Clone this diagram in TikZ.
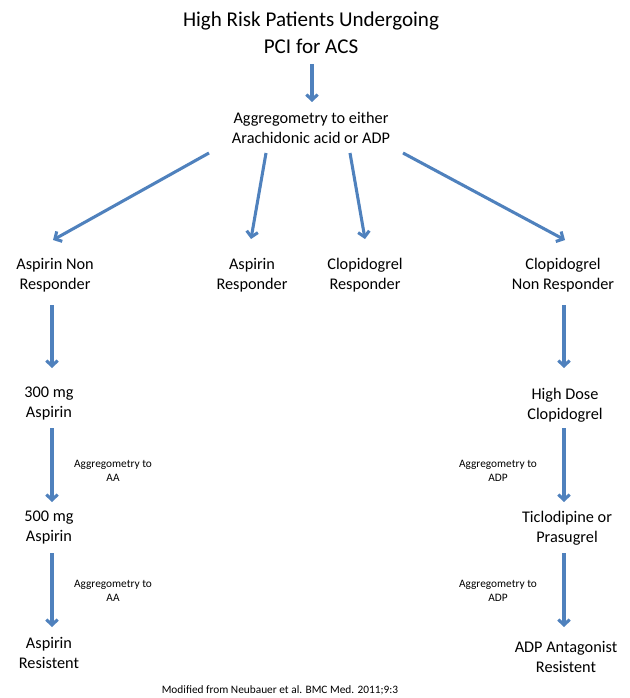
\documentclass[tikz,border=0pt]{standalone}
\usepackage{fontspec}
\setmainfont{Carlito}
\usepackage{tikz}
\usetikzlibrary{arrows.meta,calc}
\definecolor{flowblue}{RGB}{79,129,189}

\begin{document}
\begin{tikzpicture}[x=0.75pt,y=-0.75pt,
    flow/.style={draw=flowblue, line width=2.3pt, -{Straight Barb[length=4pt,width=8.5pt]}},
    txt/.style={align=center, font=\fontsize{12.2}{15}\selectfont},
    note/.style={align=center, font=\fontsize{8.5}{11}\selectfont}]
    \useasboundingbox (0,0) rectangle (630,698);

    \node[align=center, font=\fontsize{15.8}{20}\selectfont] (title) at (311,33) {High Risk Patients Undergoing\\PCI for ACS};
    \node[txt] (agg) at (311,128) {Aggregometry to either\\Arachidonic acid or ADP};

    \node[txt] (anr) at (55,275) {Aspirin Non\\Responder};
    \node[txt] (ar) at (252,275) {Aspirin\\Responder};
    \node[txt] (cr) at (365,275) {Clopidogrel\\Responder};
    \node[txt] (cnr) at (563,275) {Clopidogrel\\Non Responder};

    \node[txt] (asa300) at (49,404) {300 mg\\Aspirin};
    \node[txt] (asa500) at (49,528) {500 mg\\Aspirin};
    \node[txt] (asares) at (49,653) {Aspirin\\Resistent};

    \node[txt] (hdc) at (565,405) {High Dose\\Clopidogrel};
    \node[txt] (tic) at (567,528) {Ticlodipine or\\Prasugrel};
    \node[txt] (adpres) at (566,657) {ADP Antagonist\\Resistent};

    \node[note] (aa1) at (113,471) {Aggregometry to\\AA};
    \node[note] (aa2) at (113,591) {Aggregometry to\\AA};
    \node[note] (adp1) at (498,471) {Aggregometry to\\ADP};
    \node[note] (adp2) at (498,591) {Aggregometry to\\ADP};

    \node[font=\fontsize{8.5}{10}\selectfont] (src) at (280,690) {Modified from Neubauer et al. BMC Med. 2011;9:3};

    % arrows from the top
    \draw[flow] ($(title)+(1,31)$) -- ($(agg)+(1,-26)$);
    \draw[flow] ($(agg)+(-102,25)$) -- ($(anr)+(-2,-35)$);
    \draw[flow] ($(agg)+(-45,25)$) -- ($(ar)+(-1,-36)$);
    \draw[flow] ($(agg)+(39,25)$) -- ($(cr)+(0,-36)$);
    \draw[flow] ($(agg)+(92,25)$) -- ($(cnr)+(2,-35)$);

    % aspirin column
    \draw[flow] ($(anr)+(-3,30)$) -- ($(asa300)+(3,-36)$);
    \draw[flow] ($(asa300)+(3,24)$) -- ($(asa500)+(3,-26)$);
    \draw[flow] ($(asa500)+(3,25)$) -- ($(asares)+(3,-26)$);

    % clopidogrel column
    \draw[flow] ($(cnr)+(1,30)$) -- ($(hdc)+(-1,-37)$);
    \draw[flow] ($(hdc)+(-1,23)$) -- ($(tic)+(-3,-26)$);
    \draw[flow] ($(tic)+(-3,25)$) -- ($(adpres)+(-2,-30)$);
\end{tikzpicture}
\end{document}
